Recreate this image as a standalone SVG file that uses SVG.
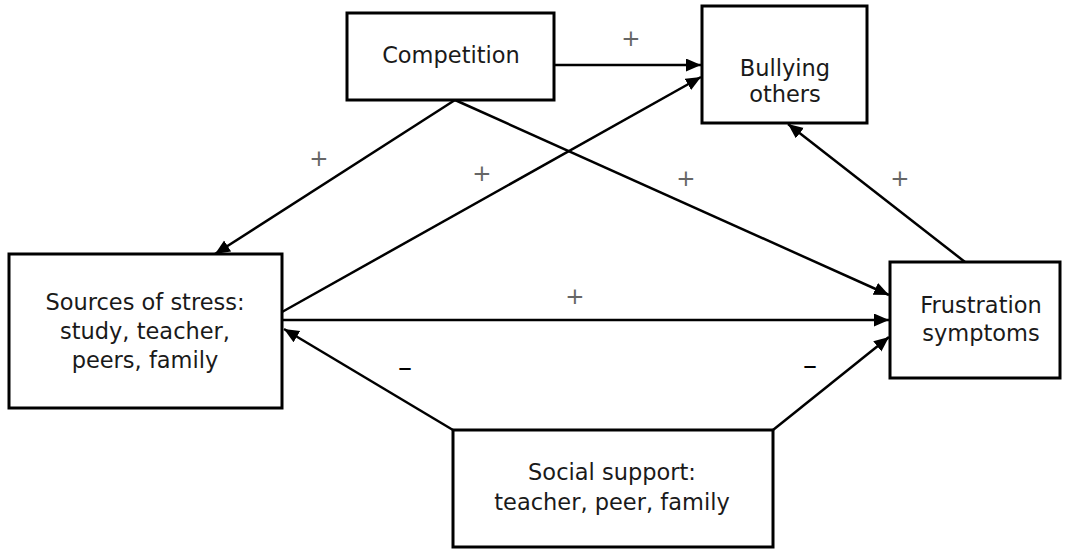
<svg xmlns="http://www.w3.org/2000/svg" width="1065" height="550" viewBox="0 0 1065 550">
<style>
.box{fill:#fff;stroke:#000;stroke-width:3}
.lbl{font-family:"DejaVu Sans",Verdana,sans-serif;font-size:22.5px;fill:#1a1a1a;text-anchor:middle}
.sign{font-family:"DejaVu Sans",sans-serif;font-size:23px;fill:#666;text-anchor:middle}
.minus{font-family:"DejaVu Sans",sans-serif;font-size:28px;fill:#000;text-anchor:middle}
.edge{stroke:#000;stroke-width:2.5;fill:none;marker-end:url(#ah)}
</style>
<defs>
<marker id="ah" markerUnits="userSpaceOnUse" markerWidth="16" markerHeight="14" refX="15" refY="6.5" orient="auto">
<path d="M0,0 L15,6.5 L0,13 z" fill="#000"/>
</marker>
</defs>
<rect width="1065" height="550" fill="#fff"/>
<g id="connectors">
<line class="edge" x1="554" y1="65" x2="701" y2="65"/>
<line class="edge" x1="455" y1="100" x2="215" y2="254"/>
<line class="edge" x1="455" y1="100" x2="889" y2="295"/>
<line class="edge" x1="282" y1="312" x2="701" y2="77"/>
<line class="edge" x1="282" y1="320" x2="889" y2="320"/>
<line class="edge" x1="453" y1="430" x2="284" y2="329"/>
<line class="edge" x1="773" y1="430" x2="889" y2="337"/>
<line class="edge" x1="965" y1="262" x2="788" y2="124"/>
</g>
<g id="competition">
<rect class="box" x="347" y="13" width="207" height="87"/>
<text class="lbl" x="451" y="63">Competition</text>
</g>
<g id="bullying">
<rect class="box" x="702" y="6" width="165" height="117"/>
<text class="lbl" x="785" y="76">Bullying</text>
<text class="lbl" x="785" y="102">others</text>
</g>
<g id="sources">
<rect class="box" x="9" y="254" width="273" height="154"/>
<text class="lbl" x="145" y="310">Sources of stress:</text>
<text class="lbl" x="145" y="339">study, teacher,</text>
<text class="lbl" x="145" y="368">peers, family</text>
</g>
<g id="frustration">
<rect class="box" x="890" y="262" width="170" height="116"/>
<text class="lbl" x="981" y="313">Frustration</text>
<text class="lbl" x="981" y="341">symptoms</text>
</g>
<g id="social">
<rect class="box" x="453" y="430" width="320" height="117"/>
<text class="lbl" x="612" y="480">Social support:</text>
<text class="lbl" x="612" y="510">teacher, peer, family</text>
</g>
<g id="signs">
<text class="sign" x="631" y="46">+</text>
<text class="sign" x="319" y="166">+</text>
<text class="sign" x="482" y="181">+</text>
<text class="sign" x="686" y="186">+</text>
<text class="sign" x="900" y="186">+</text>
<text class="sign" x="575" y="304">+</text>
<text class="minus" x="405" y="377">–</text>
<text class="minus" x="810" y="375">–</text>
</g>
</svg>
